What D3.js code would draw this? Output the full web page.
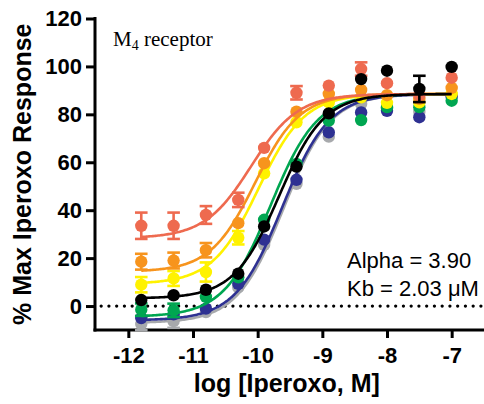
<!DOCTYPE html>
<html>
<head>
<meta charset="utf-8">
<script src="https://cdn.jsdelivr.net/npm/d3@7"></script>
<style>
  html, body { margin: 0; padding: 0; background: #fff; }
  svg { display: block; }
  text { font-family: "Liberation Sans", Arial, sans-serif; }
</style>
</head>
<body>
<svg id="chart" width="484" height="404"></svg>
<script>
// Log iperoxo concentrations (M)
const logConc = [-11.8, -11.3, -10.8, -10.3, -9.9, -9.4, -8.9, -8.4, -8.0, -7.5, -7.0];

// Series, drawn in this order
const seriesNames  = ["grey", "blue", "green", "yellow", "orange", "salmon", "black"];
const seriesColors = ["#a7a9ac", "#2e3192", "#00a651", "#fff200", "#f7941d", "#ee6a4f", "#000000"];

// Mean responses (% max iperoxo)
const greyVals   = [-7.5, -6.3, -2.5, 7.8, 25.5, 51.0, 70.7, 84.3, 82.5, 81.0, 88.0];
const blueVals   = [-5.0, -3.5, -1.1, 9.3, 27.7, 52.7, 72.5, 80.8, 81.5, 78.8, 87.3];
const greenVals  = [-1.5, -1.8, 3.8, 12.0, 36.0, 59.3, 77.4, 77.6, 83.0, 83.0, 85.7];
const yellowVals = [8.9, 11.5, 14.2, 28.5, 55.4, 76.7, 85.0, 87.1, 84.8, 85.0, 88.5];
const orangeVals = [18.5, 19.0, 23.3, 34.6, 59.6, 81.1, 88.5, 90.2, 88.0, 86.5, 91.0];
const salmonVals = [33.5, 33.5, 38.0, 44.3, 66.0, 89.0, 92.0, 98.9, 93.0, 88.0, 95.3];
const blackVals  = [2.5, 4.5, 6.8, 13.5, 33.2, 58.2, 80.4, 94.7, 98.2, 90.6, 99.8];

// SEM
const greyErr   = [2.6, 2.8, 1.0, 1.0, 1.5, 1.5, 1.5, 1.0, 1.0, 1.0, 1.0];
const blueErr   = [2.0, 2.0, 1.0, 1.0, 1.5, 1.5, 1.5, 1.0, 1.0, 1.0, 1.0];
const greenErr  = [2.6, 2.8, 1.0, 1.0, 1.5, 1.5, 1.0, 1.0, 1.0, 1.0, 1.0];
const yellowErr = [3.2, 3.1, 4.0, 2.8, 1.5, 1.5, 1.0, 1.0, 1.0, 1.0, 1.0];
const orangeErr = [3.3, 3.3, 3.0, 1.5, 1.5, 1.5, 1.0, 1.5, 1.0, 1.0, 1.0];
const salmonErr = [5.5, 5.5, 3.7, 3.0, 1.5, 2.8, 1.5, 2.8, 1.5, 1.5, 1.5];
const blackErr  = [1.5, 1.0, 1.0, 1.0, 1.5, 1.5, 1.5, 1.5, 1.0, 5.5, 1.0];

// Fitted sigmoid parameters per series (same order as seriesNames)
const fitBottom  = [-7.0, -6.0, -4.5, 9.2, 14.3, 28.3, 3.2];
const fitTop     = [88.5, 88.5, 88.5, 88.5, 88.5, 88.5, 88.5];
const fitLogEC50 = [-9.60, -9.62, -9.80, -9.99, -10.04, -10.10, -9.67];
const fitHill    = [1.2, 1.2, 1.2, 1.22, 1.25, 1.2, 1.25];

// Axis ticks
const yTicks = [0, 20, 40, 60, 80, 100, 120];
const xTicks = [-12, -11, -10, -9, -8, -7];

const values = [greyVals, blueVals, greenVals, yellowVals, orangeVals, salmonVals, blackVals];
const errors = [greyErr, blueErr, greenErr, yellowErr, orangeErr, salmonErr, blackErr];

const svg = d3.select("#chart");
const x = d3.scaleLinear().domain([-12.5, -6.5]).range([96, 484]);
const y = d3.scaleLinear().domain([-10, 120]).range([330, 18.5]);

// Y axis
const yAxis = svg.append("g")
  .attr("transform", `translate(${x(-12.5) - 1},0)`)
  .call(d3.axisLeft(y).tickValues(yTicks).tickSize(9).tickPadding(4).tickFormat(d3.format("d")));
yAxis.select(".domain").remove();
yAxis.selectAll(".tick line").attr("stroke", "#000").attr("stroke-width", 3);
yAxis.selectAll(".tick text")
  .attr("font-family", "Liberation Sans, Arial, sans-serif")
  .attr("font-size", 22).attr("font-weight", "bold").attr("fill", "#000");
yAxis.append("line")
  .attr("x1", 0).attr("x2", 0)
  .attr("y1", y(120) - 1.5).attr("y2", y(-10) + 1.5)
  .attr("stroke", "#000").attr("stroke-width", 3);

// X axis
const xAxis = svg.append("g")
  .attr("transform", `translate(0,${y(-10)})`)
  .call(d3.axisBottom(x).tickValues(xTicks).tickSize(8).tickPadding(9).tickFormat(d3.format("d")));
xAxis.select(".domain").remove();
xAxis.selectAll(".tick line").attr("stroke", "#000").attr("stroke-width", 3);
xAxis.selectAll(".tick text")
  .attr("font-family", "Liberation Sans, Arial, sans-serif")
  .attr("font-size", 22).attr("font-weight", "bold").attr("fill", "#000")
  .text(d => "-" + Math.abs(d));
xAxis.append("line")
  .attr("x1", x(-12.5) - 2.5).attr("x2", 484)
  .attr("y1", 0).attr("y2", 0)
  .attr("stroke", "#000").attr("stroke-width", 3);

// Zero reference line
svg.append("line")
  .attr("x1", x(-12.42)).attr("x2", 484)
  .attr("y1", y(0)).attr("y2", y(0))
  .attr("stroke", "#000").attr("stroke-width", 3.3)
  .attr("stroke-linecap", "round")
  .attr("stroke-dasharray", "0,7.75");

// Axis titles
svg.append("text")
  .attr("x", x(-9.55)).attr("y", 392)
  .attr("text-anchor", "middle")
  .attr("font-size", 25).attr("font-weight", "bold")
  .text("log [Iperoxo, M]");

svg.append("text")
  .attr("transform", `translate(31,${y(55)}) rotate(-90)`)
  .attr("text-anchor", "middle")
  .attr("font-size", 25).attr("font-weight", "bold")
  .text("% Max Iperoxo Response");

// Panel label
const lbl = svg.append("text")
  .attr("x", 113).attr("y", 46)
  .style("font-family", "'Liberation Serif', 'Times New Roman', serif")
  .attr("font-size", 21);
lbl.append("tspan").text("M");
lbl.append("tspan").attr("font-size", 14).attr("dy", 4).text("4");
lbl.append("tspan").attr("dy", -4).text(" receptor");

// Fit statistics
svg.append("text").attr("x", 347).attr("y", 268)
  .attr("font-size", 22).text("Alpha = 3.90");
svg.append("text").attr("x", 347).attr("y", 296)
  .attr("font-size", 22).text("Kb = 2.03 \u03bcM");

// Fitted curves
const curveX = d3.range(-11.8, -6.999, 0.02);
const line = d3.line().x(d => x(d[0])).y(d => y(d[1]));
function sigmoid(i, lx) {
  return fitBottom[i] + (fitTop[i] - fitBottom[i]) /
    (1 + Math.pow(10, (fitLogEC50[i] - lx) * fitHill[i]));
}

const markerR = 6.2;
const capHalf = 6.3;
seriesNames.forEach((name, i) => {
  const g = svg.append("g").attr("class", "series-" + name);
  const color = seriesColors[i];

  g.append("path")
    .datum(curveX.map(lx => [lx, sigmoid(i, lx)]))
    .attr("d", line)
    .attr("fill", "none")
    .attr("stroke", color)
    .attr("stroke-width", 2.6);

  const pts = logConc.map((lx, k) => ({ lx, v: values[i][k], e: errors[i][k] }));

  // error bars only where they reach beyond the symbol
  const withBars = pts.filter(d => y(d.v) - y(d.v + d.e) > markerR);
  const eb = g.selectAll(".err").data(withBars).enter().append("g");
  eb.append("line")
    .attr("x1", d => x(d.lx)).attr("x2", d => x(d.lx))
    .attr("y1", d => y(d.v + d.e)).attr("y2", d => y(d.v - d.e))
    .attr("stroke", color).attr("stroke-width", 2.6);
  eb.append("line")
    .attr("x1", d => x(d.lx) - capHalf).attr("x2", d => x(d.lx) + capHalf)
    .attr("y1", d => y(d.v + d.e)).attr("y2", d => y(d.v + d.e))
    .attr("stroke", color).attr("stroke-width", 2.6);
  eb.append("line")
    .attr("x1", d => x(d.lx) - capHalf).attr("x2", d => x(d.lx) + capHalf)
    .attr("y1", d => y(d.v - d.e)).attr("y2", d => y(d.v - d.e))
    .attr("stroke", color).attr("stroke-width", 2.6);

  g.selectAll("circle").data(pts).enter().append("circle")
    .attr("cx", d => x(d.lx)).attr("cy", d => y(d.v))
    .attr("r", markerR)
    .attr("fill", color);
});
</script>
</body>
</html>
